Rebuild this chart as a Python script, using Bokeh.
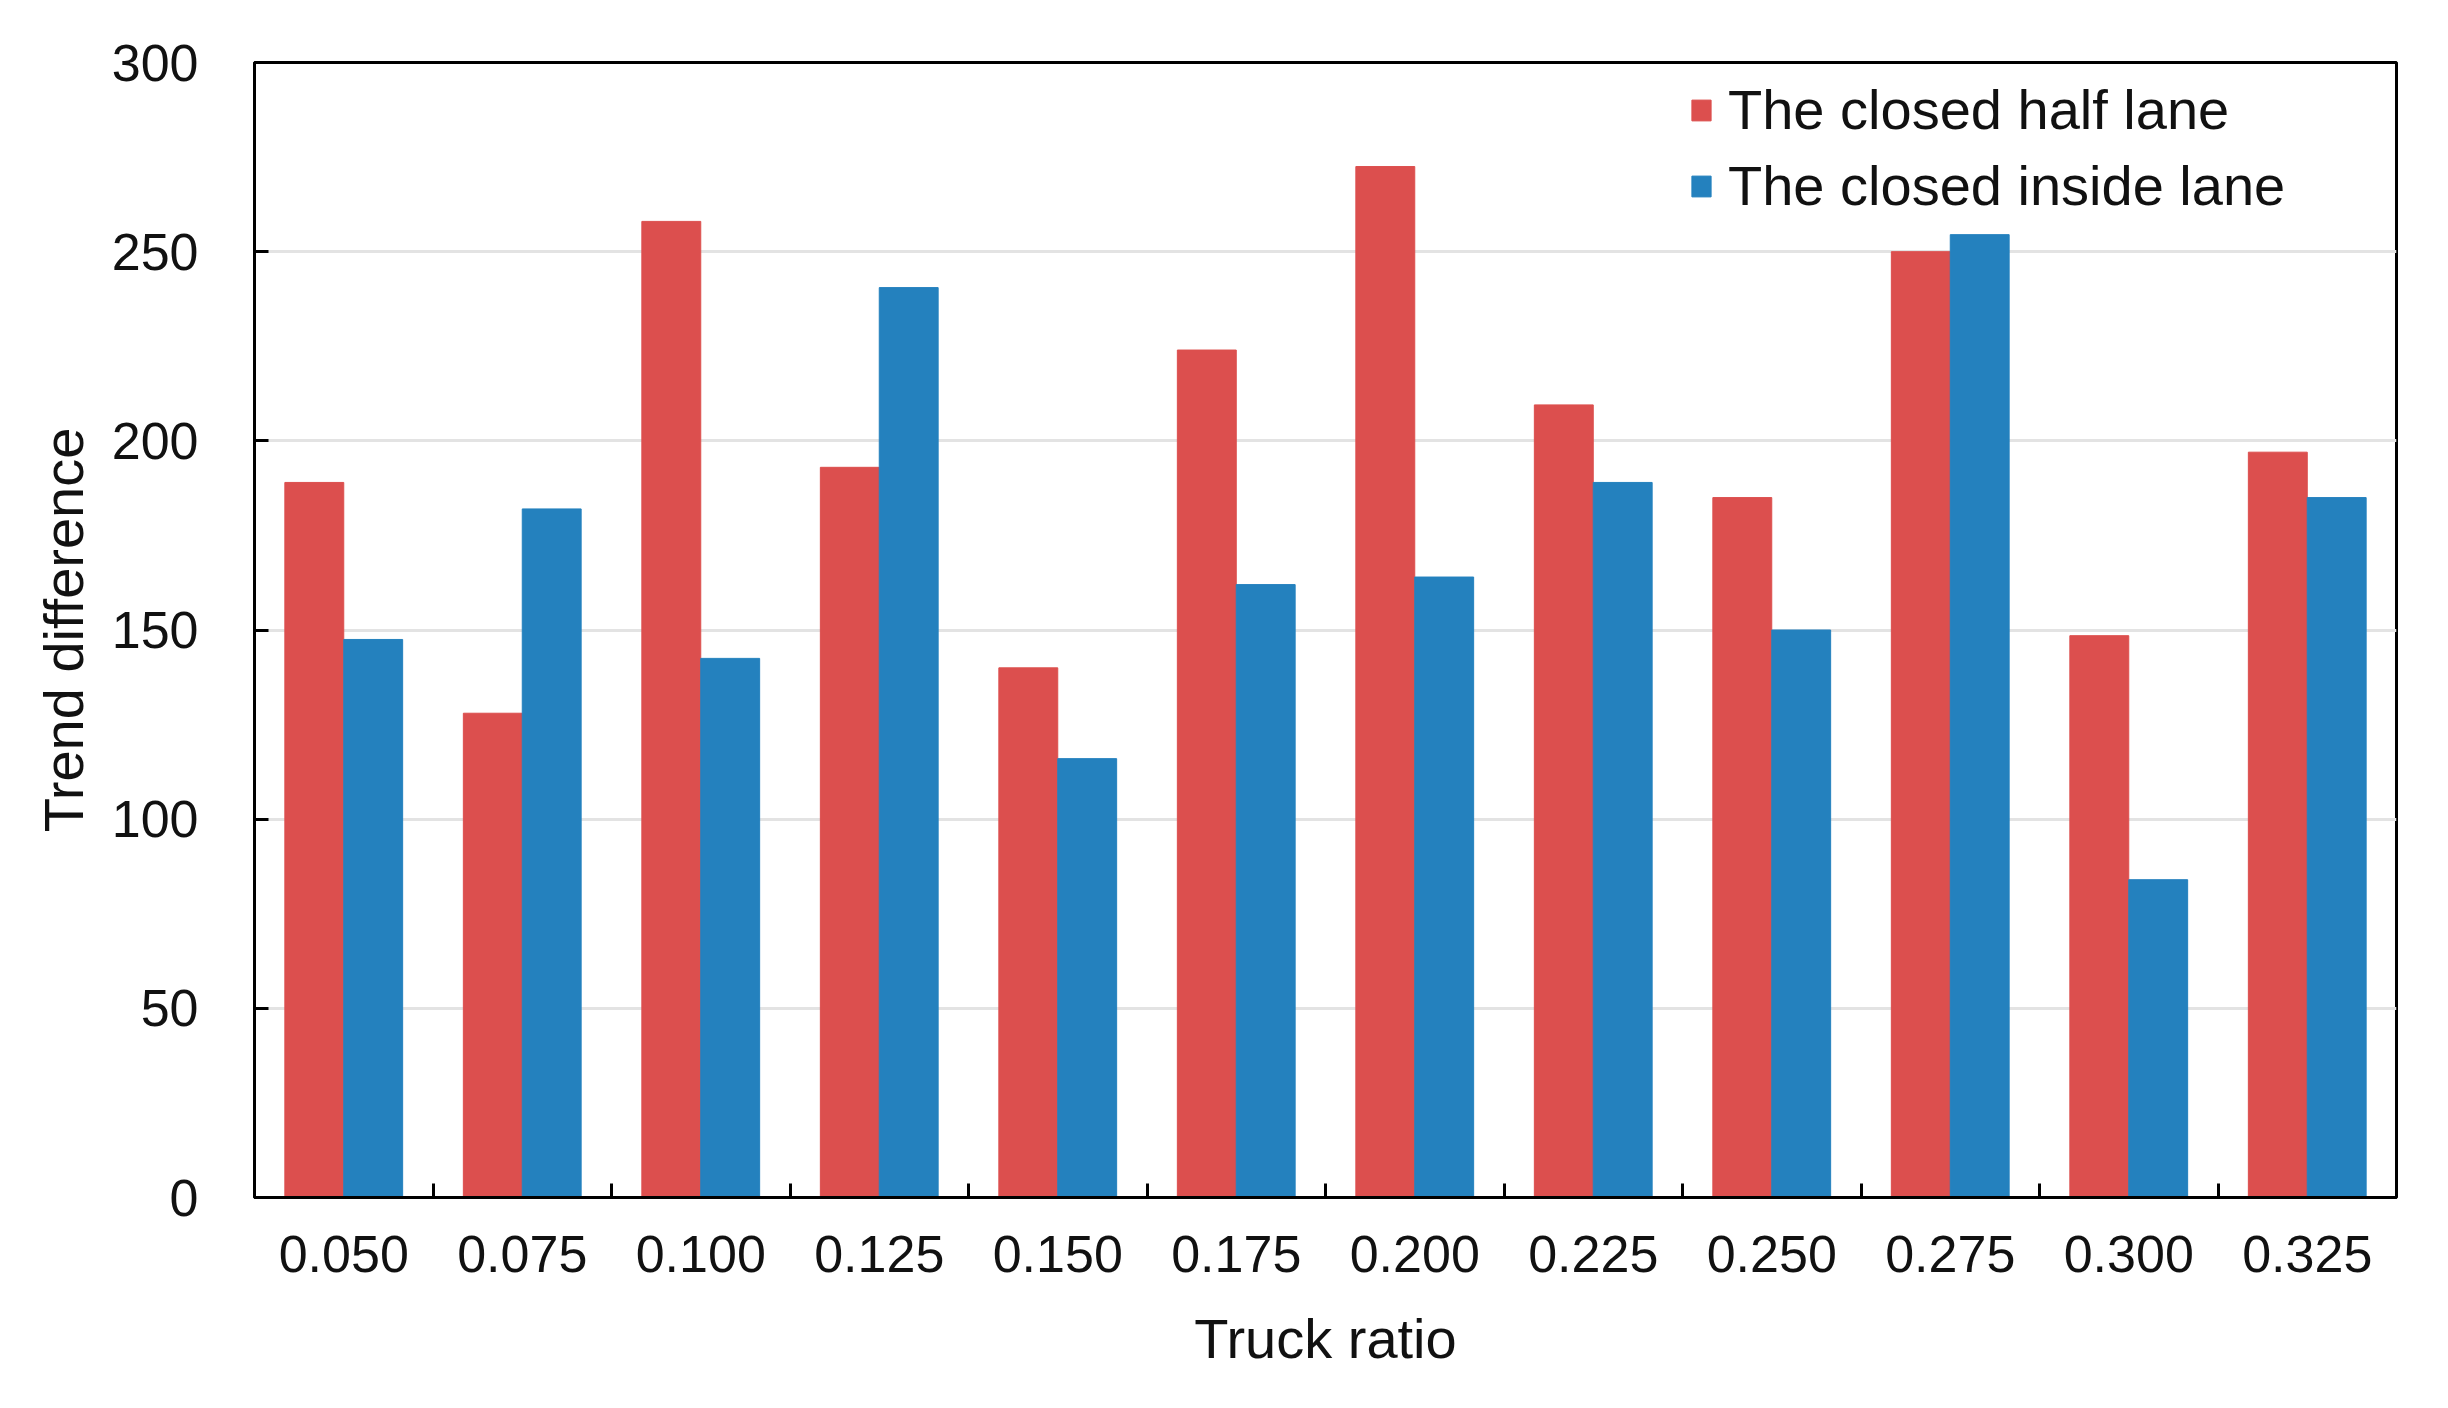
import numpy as np
from bokeh.plotting import figure
from bokeh.models import FixedTicker, Legend, LegendItem, Range1d
from bokeh.embed import file_html
from bokeh.resources import INLINE

# ---- data ----
categories = ["0.050", "0.075", "0.100", "0.125", "0.150", "0.175",
              "0.200", "0.225", "0.250", "0.275", "0.300", "0.325"]
half_lane = [189, 128, 258, 193, 140, 224, 272.5, 209.5, 185, 250, 148.5, 197]
inside_lane = [147.5, 182, 142.5, 240.5, 116, 162, 164, 189, 150, 254.5, 84, 185]
y_ticks = [0, 50, 100, 150, 200, 250, 300]
series_names = ["The closed half lane", "The closed inside lane"]

RED = "#DC4F4E"
BLUE = "#2481BE"
FONT = "Liberation Sans"

n = len(categories)
centers = np.arange(n) + 0.5
bw = 0.33

p = figure(width=2432, height=1392, output_backend="svg", toolbar_location=None,
           x_range=Range1d(0, n), y_range=Range1d(0, 300),
           min_border_left=254, min_border_right=36, min_border_top=62,
           min_border_bottom=195)

r1 = p.vbar(x=centers - bw / 2, top=half_lane, width=bw, fill_color=RED, line_color=RED)
r2 = p.vbar(x=centers + bw / 2, top=inside_lane, width=bw, fill_color=BLUE, line_color=BLUE)

# frame
p.outline_line_color = "black"
p.outline_line_width = 3
p.background_fill_color = "white"

# x axis: labels at centers, tick marks between groups
p.xaxis.ticker = FixedTicker(ticks=list(centers), minor_ticks=list(np.arange(1, n)))
p.xaxis.major_label_overrides = {float(c): lab for c, lab in zip(centers, categories)}
p.xaxis.major_tick_in = 0
p.xaxis.major_tick_out = 0
p.xaxis.minor_tick_in = 14
p.xaxis.minor_tick_out = 0
p.xaxis.minor_tick_line_color = "black"
p.xaxis.minor_tick_line_width = 3
p.xaxis.major_label_standoff = 38
p.xaxis.axis_label = "Truck ratio"
p.xaxis.axis_label_standoff = 32

# y axis
p.yaxis.ticker = FixedTicker(ticks=y_ticks, minor_ticks=[])
p.yaxis.major_tick_in = 14
p.yaxis.major_tick_out = 0
p.yaxis.major_tick_line_width = 3
p.yaxis.major_tick_line_color = "black"
p.yaxis.major_label_standoff = 56
p.yaxis.axis_label = "Trend difference"
p.yaxis.axis_label_standoff = 14

for ax in (p.xaxis, p.yaxis):
    ax.axis_line_color = "black"
    ax.axis_line_width = 3
    ax.major_label_text_font = FONT
    ax.major_label_text_font_size = "52px"
    ax.major_label_text_color = "#111111"
    ax.axis_label_text_font = FONT
    ax.axis_label_text_font_size = "56px"
    ax.axis_label_text_font_style = "normal"
    ax.axis_label_text_color = "#111111"

p.xgrid.grid_line_color = None
p.ygrid.grid_line_color = "#E3E3E3"
p.ygrid.grid_line_width = 3
p.ygrid.ticker = FixedTicker(ticks=y_ticks[1:-1])

legend = Legend(items=[LegendItem(label=series_names[0], renderers=[r1]),
                       LegendItem(label=series_names[1], renderers=[r2])],
                location=(1435, 979))
legend.border_line_color = None
legend.background_fill_alpha = 0
legend.padding = 0
legend.margin = 0
legend.glyph_width = 24
legend.glyph_height = 26
legend.label_standoff = 15
legend.spacing = 11
legend.label_text_font = FONT
legend.label_text_font_size = "56px"
legend.label_text_color = "#111111"
p.add_layout(legend)

open("out.html", "w").write(file_html(p, INLINE))
